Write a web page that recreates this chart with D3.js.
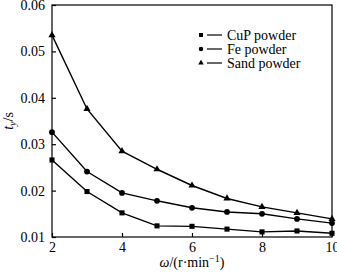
<!DOCTYPE html>
<html>
<head>
<meta charset="utf-8">
<script src="https://cdn.jsdelivr.net/npm/d3@7"></script>
<style>
  body { margin: 0; background: #fff; }
  svg text { font-family: "Liberation Serif", "Times New Roman", "DejaVu Serif", serif; fill: #000; }
</style>
</head>
<body>
<div class="chart"></div>
<script>
var svgWidth = 337;
var svgHeight = 275;

var margin = { top: 5, right: 5, bottom: 38, left: 52 };
var width = svgWidth - margin.left - margin.right;
var height = svgHeight - margin.top - margin.bottom;
var serif = "'Liberation Serif', 'Times New Roman', serif";

// Data
var speeds = [2, 3, 4, 5, 6, 7, 8, 9, 10];
var cupValues = [0.0266, 0.0198, 0.0152, 0.0124, 0.0123, 0.0117, 0.0111, 0.0113, 0.0108];
var feValues = [0.0326, 0.0241, 0.0195, 0.0178, 0.0163, 0.0154, 0.0150, 0.0139, 0.0130];
var sandValues = [0.0535, 0.0376, 0.0285, 0.0246, 0.0211, 0.0183, 0.0165, 0.0152, 0.0139];
var seriesNames = ["CuP powder", "Fe powder", "Sand powder"];
var xTicks = [2, 4, 6, 8, 10];
var yTicks = [0.01, 0.02, 0.03, 0.04, 0.05, 0.06];

var series = [
  { name: seriesNames[0], values: cupValues, symbol: d3.symbolSquare, size: 26 },
  { name: seriesNames[1], values: feValues, symbol: d3.symbolCircle, size: 26 },
  { name: seriesNames[2], values: sandValues, symbol: d3.symbolTriangle, size: 22 }
];

var svg = d3.select(".chart")
  .append("svg")
  .attr("width", svgWidth)
  .attr("height", svgHeight)
  .attr("font-family", serif);

var chartGroup = svg.append("g")
  .attr("transform", `translate(${margin.left}, ${margin.top})`);

// Scales
var xScale = d3.scaleLinear().domain([2, 10]).range([0, width]);
var yScale = d3.scaleLinear().domain([0.01, 0.06]).range([height, 0]);

// Frame
chartGroup.append("rect")
  .attr("width", width)
  .attr("height", height)
  .attr("fill", "none")
  .attr("stroke", "#000")
  .attr("stroke-width", 1.2);

// Axis (ticks pointing inward)
var bottomAxis = d3.axisBottom(xScale)
  .tickValues(xTicks)
  .tickSizeInner(-4)
  .tickSizeOuter(0)
  .tickPadding(5)
  .tickFormat(d3.format("d"));

var leftAxis = d3.axisLeft(yScale)
  .tickValues(yTicks)
  .tickSizeInner(-4)
  .tickSizeOuter(0)
  .tickPadding(7)
  .tickFormat(d3.format(".2f"));

var gx = chartGroup.append("g")
  .attr("transform", `translate(0, ${height})`)
  .call(bottomAxis);

var gy = chartGroup.append("g")
  .call(leftAxis);

[gx, gy].forEach(function(g) {
  g.attr("font-family", serif).attr("font-size", 14);
  g.select(".domain").remove();
  g.selectAll("line").attr("stroke", "#000").attr("stroke-width", 1.2);
});

// Lines
var line = d3.line()
  .x(function(d, i) { return xScale(speeds[i]); })
  .y(function(d) { return yScale(d); });

series.forEach(function(s) {
  chartGroup.append("path")
    .datum(s.values)
    .attr("d", line)
    .attr("fill", "none")
    .attr("stroke", "#000")
    .attr("stroke-width", 1.4);

  chartGroup.selectAll(null)
    .data(s.values)
    .enter()
    .append("path")
    .attr("d", d3.symbol().type(s.symbol).size(s.size))
    .attr("transform", function(d, i) {
      return `translate(${xScale(speeds[i])}, ${yScale(d)})`;
    })
    .attr("fill", "#000");
});

// Legend
var legend = svg.append("g")
  .attr("transform", "translate(201, 35)");

var legendRows = legend.selectAll("g")
  .data(series)
  .enter()
  .append("g")
  .attr("transform", function(d, i) { return `translate(0, ${i * 14})`; });

legendRows.append("path")
  .attr("d", function(d) { return d3.symbol().type(d.symbol).size(d.size * 0.6)(); })
  .attr("fill", "#000");

legendRows.append("line")
  .attr("x1", 6)
  .attr("x2", 21)
  .attr("stroke", "#000")
  .attr("stroke-width", 1.2);

legendRows.append("text")
  .attr("x", 26)
  .attr("dy", "0.33em")
  .attr("font-size", 14)
  .text(function(d) { return d.name; });

// Labels
var yLabel = svg.append("text")
  .attr("transform", `translate(13, ${margin.top + height / 2}) rotate(-90)`)
  .attr("text-anchor", "middle")
  .attr("font-size", 14);
yLabel.append("tspan").attr("font-style", "italic").text("t");
yLabel.append("tspan").attr("dy", 3).attr("font-size", 10).attr("font-style", "italic").text("y");
yLabel.append("tspan").attr("dy", -3).text("/s");

var xLabel = svg.append("text")
  .attr("x", margin.left + width / 2)
  .attr("y", 267)
  .attr("text-anchor", "middle")
  .attr("font-size", 14);
xLabel.append("tspan").attr("font-style", "italic").text("ω");
xLabel.append("tspan").text("/(r·min");
xLabel.append("tspan").attr("dy", -5).attr("font-size", 10).text("−1");
xLabel.append("tspan").attr("dy", 5).text(")");
</script>
</body>
</html>
